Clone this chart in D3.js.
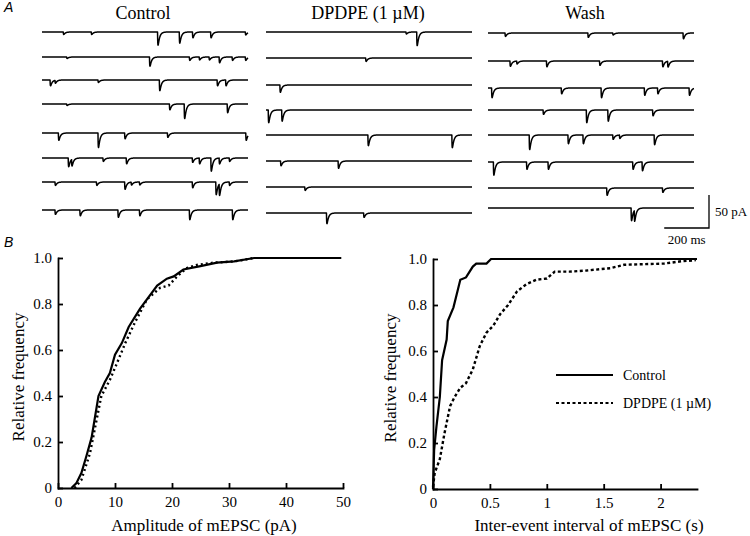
<!DOCTYPE html>
<meta charset="utf-8">
<script src="https://d3js.org/d3.v7.min.js"></script>
<style>
body { margin: 0; background: #fff; }
svg, svg text { font-family: "Liberation Serif", "Times New Roman", "DejaVu Serif", serif; }
.trace { fill: none; stroke: #000; stroke-width: 1.5px; stroke-linejoin: round; }
.axis path, .axis line { stroke: #000; stroke-width: 1.8px; }
.axis text { font-size: 15px; fill: #000; }
.cdf { fill: none; stroke: #000; }
svg text.panel { font-family: "Liberation Sans", Arial, sans-serif; font-style: italic; font-size: 14px; }
</style>
<svg width="750" height="536"></svg>
<script>

// ---- panel A: mEPSC events per sweep, [time (ms), amplitude (pA)] ----
var sweepMs = 920;
var conditions = ["Control", "DPDPE (1 \u00b5M)", "Wash"];

var controlEvents = [
  [[95, 5], [220, 5], [516, 27], [613, 23], [672, 12], [753, 12], [908, 6]],
  [[110, 3], [480, 19], [658, 7], [702, 6], [746, 6], [791, 12], [849, 7], [908, 7]],
  [[36, 12], [58, 6], [250, 5], [524, 22], [782, 12], [820, 12]],
  [[110, 3], [569, 12], [635, 30], [827, 18]],
  [[73, 15], [250, 30], [369, 12], [560, 9], [910, 15]],
  [[117, 18], [132, 14], [272, 7], [376, 12], [671, 9], [702, 12], [754, 27], [791, 12], [836, 7]],
  [[58, 7], [243, 7], [369, 15], [398, 6], [435, 6], [671, 12], [776, 26], [791, 24], [836, 7]],
  [[58, 9], [169, 12], [339, 15], [435, 12], [658, 20], [850, 20]]
];
var dpdpeEvents = [
  [[625, 4], [673, 28]],
  [[445, 7]],
  [[62, 15]],
  [[10, 26], [70, 23]],
  [[455, 22], [830, 26]],
  [[65, 10], [322, 15]],
  [[173, 7]],
  [[270, 22], [436, 9]]
];
var washEvents = [
  [[76, 7], [446, 9], [557, 4], [871, 12]],
  [[98, 11], [128, 6], [261, 12], [498, 9], [779, 12], [802, 12]],
  [[16, 20], [327, 12], [505, 20], [698, 15], [757, 12], [898, 15]],
  [[246, 9], [439, 26], [535, 23], [735, 12]],
  [[184, 30], [357, 18], [424, 18], [557, 9], [587, 7], [742, 20]],
  [[24, 27], [172, 15], [268, 15], [646, 15], [688, 18]],
  [[530, 15], [779, 9]],
  [[639, 26], [653, 23]]
];

// ---- panel B: cumulative distributions ----
var ampControl = [
  [2.35, 0], [3.2, 0.02], [4.1, 0.065], [5.0, 0.14], [5.9, 0.22], [7.1, 0.40], [8.2, 0.46],
  [9.1, 0.50], [10, 0.58], [11.2, 0.63], [12.4, 0.70], [14.4, 0.78], [17.4, 0.88], [19.1, 0.91],
  [20.3, 0.92], [22, 0.95], [25, 0.965], [27.9, 0.98], [30.9, 0.985], [34.4, 1.0], [49.7, 1.0]
];
var ampDpdpe = [
  [2.9, 0], [4.1, 0.035], [5.6, 0.15], [6.8, 0.30], [7.6, 0.40], [9.1, 0.47], [10.3, 0.54],
  [11.8, 0.63], [13.5, 0.72], [15.6, 0.82], [17.9, 0.87], [19.4, 0.88], [20.9, 0.92],
  [22.6, 0.956], [24.4, 0.97], [27.4, 0.98], [30.9, 0.985], [34.4, 1.0]
];
var ieiControl = [
  [0, 0], [0.01, 0.17], [0.03, 0.27], [0.06, 0.40], [0.08, 0.56], [0.12, 0.65], [0.13, 0.73],
  [0.18, 0.79], [0.22, 0.87], [0.24, 0.91], [0.29, 0.92], [0.35, 0.967], [0.38, 0.98],
  [0.47, 0.98], [0.51, 1.0], [2.32, 1.0]
];
var ieiDpdpe = [
  [0, 0.01], [0.015, 0.07], [0.06, 0.13], [0.1, 0.24], [0.15, 0.36], [0.19, 0.40], [0.24, 0.44],
  [0.29, 0.46], [0.35, 0.52], [0.41, 0.62], [0.47, 0.68], [0.53, 0.71], [0.59, 0.76], [0.66, 0.80],
  [0.74, 0.86], [0.82, 0.89], [0.91, 0.91], [1.0, 0.915], [1.07, 0.945], [1.2, 0.945],
  [1.35, 0.95], [1.56, 0.96], [1.68, 0.975], [2.03, 0.98], [2.18, 0.99], [2.31, 0.995]
];
var freqTicks = [0, 0.2, 0.4, 0.6, 0.8, 1.0];
var ampTicks = [0, 10, 20, 30, 40, 50];
var ieiTicks = [0, 0.5, 1, 1.5, 2];

var serif = "Liberation Serif, Times New Roman, DejaVu Serif, serif";
var svg = d3.select("svg").attr("font-family", serif);

// layout for panel A
var colX = [42, 266, 488], colW = 206;
var rowY = [
  [32, 57, 80, 104, 133, 158, 182, 210],
  [32, 58, 85, 110, 135, 161, 187, 213],
  [33, 61, 88, 110, 135, 162, 188, 208]
];
var titleX = [143, 368, 585];
var allEvents = [controlEvents, dpdpeEvents, washEvents];

var pA = d3.scaleLinear().domain([0, 50]).range([0, 33]);

// simple mEPSC waveform: fast rise, exponential decay
function current(evts, t) {
  var s = 0;
  evts.forEach(function(e) {
    var dt = t - e[0];
    if (dt > 0) s += e[1] * 1.2 * (1 - Math.exp(-dt / 1.2)) * Math.exp(-dt / 7);
  });
  return s;
}

var times = d3.range(0, sweepMs + 0.5, 0.5);

allEvents.forEach(function(rows, c) {
  var x = d3.scaleLinear().domain([0, sweepMs]).range([colX[c], colX[c] + colW]);
  svg.append("text")
      .attr("x", titleX[c]).attr("y", 19)
      .attr("text-anchor", "middle")
      .attr("font-family", serif)
      .style("font-size", "18px")
      .text(conditions[c]);
  rows.forEach(function(evts, r) {
    var base = rowY[c][r];
    var line = d3.line()
        .x(function(t) { return x(t); })
        .y(function(t) { return base + pA(current(evts, t)); });
    svg.append("path").attr("class", "trace").attr("d", line(times));
  });
});

// scale bar
var xw = d3.scaleLinear().domain([0, sweepMs]).range([colX[2], colX[2] + colW]);
var sbX = 709, sbY = 228;
var sbW = xw(200) - xw(0), sbH = pA(50);
svg.append("path")
    .attr("d", "M" + (sbX - sbW) + "," + sbY + "H" + sbX + "V" + (sbY - sbH))
    .attr("fill", "none").attr("stroke", "#000").attr("stroke-width", 1.3);
svg.append("text").attr("x", sbX + 6).attr("y", sbY - sbH / 2 + 4)
    .attr("font-family", serif).style("font-size", "13px").text("50 pA");
svg.append("text").attr("x", sbX - sbW / 2).attr("y", sbY + 16)
    .attr("font-family", serif)
    .attr("text-anchor", "middle").style("font-size", "13px").text("200 ms");

svg.append("text").attr("class", "panel").attr("x", 4).attr("y", 12).text("A");
svg.append("text").attr("class", "panel").attr("x", 4).attr("y", 247).text("B");

// panel B plots
function cdfPlot(opts) {
  var x = d3.scaleLinear().domain(opts.xDomain).range([opts.left, opts.right]);
  var y = d3.scaleLinear().domain([0, 1]).range([opts.bottom, opts.top]);
  var g = svg.append("g");

  g.append("g").attr("class", "axis")
      .attr("transform", "translate(0," + opts.bottom + ")")
      .call(d3.axisBottom(x).tickValues(opts.xTicks).tickSizeInner(-5).tickSizeOuter(0)
        .tickPadding(8).tickFormat(d3.format("")))
      .attr("font-family", serif);
  g.append("g").attr("class", "axis")
      .attr("transform", "translate(" + opts.left + ",0)")
      .call(d3.axisLeft(y).tickValues(freqTicks).tickSizeInner(-5).tickSizeOuter(0)
        .tickPadding(6).tickFormat(function(d) { return d === 0 ? "0" : d.toFixed(1); }))
      .attr("font-family", serif);
  g.selectAll(".axis .domain").attr("stroke-linecap", "square");

  var line = d3.line().x(function(d) { return x(d[0]); }).y(function(d) { return y(d[1]); });
  g.append("path").attr("class", "cdf").attr("d", line(opts.dpdpe))
      .attr("stroke-width", 2.4).attr("stroke-dasharray", opts.dash);
  g.append("path").attr("class", "cdf").attr("d", line(opts.control))
      .attr("stroke-width", 2.2);

  g.append("text")
      .attr("transform", "translate(" + opts.ylabX + "," + ((opts.top + opts.bottom) / 2 + 4) + ") rotate(-90)")
      .attr("font-family", serif)
      .attr("text-anchor", "middle").style("font-size", "17px").text("Relative frequency");
  g.append("text")
      .attr("x", opts.xlabX).attr("y", 531)
      .attr("font-family", serif)
      .attr("text-anchor", "middle").style("font-size", "17px").text(opts.xlabel);
  return g;
}

cdfPlot({
  xDomain: [0, 50], left: 58, right: 343, top: 258, bottom: 488,
  xTicks: ampTicks, control: ampControl, dpdpe: ampDpdpe, dash: "2,3",
  ylabX: 24, xlabX: 204, xlabel: "Amplitude of mEPSC (pA)"
});

var g2 = cdfPlot({
  xDomain: [0, 2.32], left: 433, right: 697, top: 259, bottom: 489,
  xTicks: ieiTicks, control: ieiControl, dpdpe: ieiDpdpe, dash: "3,2.5",
  ylabX: 396, xlabX: 589, xlabel: "Inter-event interval of mEPSC (s)"
});

// legend
var legend = [
  { label: "Control", dash: null, y: 375 },
  { label: "DPDPE (1 \u00b5M)", dash: "3,2.5", y: 403 }
];
legend.forEach(function(d) {
  g2.append("line").attr("x1", 556).attr("x2", 613).attr("y1", d.y).attr("y2", d.y)
      .attr("stroke", "#000").attr("stroke-width", 2.2).attr("stroke-dasharray", d.dash);
  g2.append("text").attr("x", 623).attr("y", d.y + 5)
      .attr("font-family", serif).style("font-size", "14px").text(d.label);
});

</script>
